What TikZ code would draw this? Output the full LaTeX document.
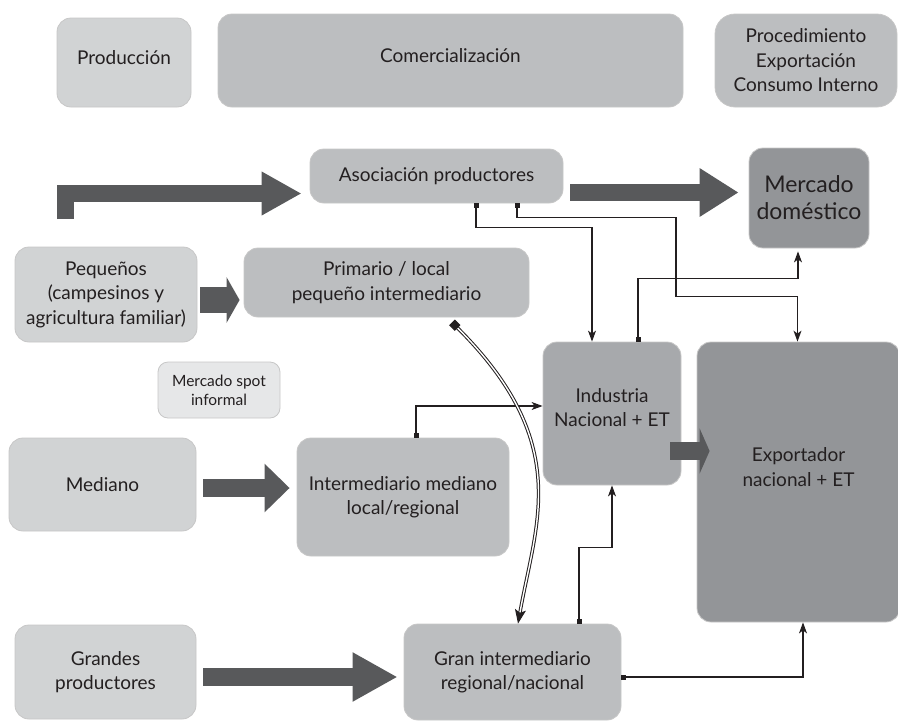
\documentclass[tikz,border=0pt]{standalone}
\usepackage{fontspec}
\setmainfont{Lato}
\usetikzlibrary{arrows.meta,positioning}
\definecolor{boxlight}{HTML}{D1D3D4}
\definecolor{boxmid}{HTML}{BCBEC0}
\definecolor{boxind}{HTML}{A7A9AC}
\definecolor{boxdark}{HTML}{939598}
\definecolor{boxspot}{HTML}{E6E7E8}
\definecolor{fatgray}{HTML}{58595B}
\definecolor{linegray}{HTML}{231F20}

\begin{document}
\begin{tikzpicture}[x=1pt,y=-1pt,
	box/.style={draw=black!22,line width=0.8pt,rounded corners=14pt,align=center,inner sep=0pt,text=linegray,font=\fontsize{19}{24.5}\selectfont},
	fat/.style={draw=fatgray,line cap=butt,line join=miter},
	link/.style={draw=linegray,line width=1.1pt,{Square[length=5pt,width=5pt]}-{Stealth[length=11pt,width=8pt,inset=3pt]}},
	curve/.style={draw=linegray,line width=1pt,double=white,double distance=1.4pt,{Square[length=8pt,width=8pt]}-{Stealth[length=14pt,width=11pt,inset=3pt]}}]
	\useasboundingbox (0,0) rectangle (898,721);

	% header row
	\node (prod)[box,fill=boxlight,minimum width=134pt,minimum height=89pt] at (124,62.5){Producción\\[-14pt]\mbox{}};
	\node (comerc)[box,fill=boxmid,minimum width=465pt,minimum height=93pt] at (450.5,60.5){Comercialización\\[-14pt]\mbox{}};
	\node (proced)[box,fill=boxmid,rounded corners=20pt,minimum width=182pt,minimum height=93pt] at (806,60.5){Procedimiento\\Exportación\\Consumo Interno};

	% producers
	\node (peq)[box,fill=boxlight,minimum width=182pt,minimum height=95pt] at (106,294.5){Pequeños\\(campesinos y\\agricultura familiar)};
	\node (med)[box,fill=boxlight,minimum width=187pt,minimum height=93pt] at (102.5,484.5){Mediano};
	\node (gra)[box,fill=boxlight,minimum width=181pt,minimum height=94pt] at (105.5,672){Grandes\\productores};
	\node (spot)[box,fill=boxspot,rounded corners=10pt,minimum width=122pt,minimum height=56pt,font=\fontsize{15.5}{19}\selectfont] at (219,390){Mercado spot\\informal};

	% intermediaries
	\node (asoc)[box,fill=boxmid,minimum width=253pt,minimum height=54pt] at (436.5,176){Asociación productores};
	\node (prim)[box,fill=boxmid,minimum width=285pt,minimum height=69pt] at (386.5,282.5){Primario / local\\pequeño intermediario};
	\node (imed)[box,fill=boxmid,minimum width=212pt,minimum height=118pt] at (403,497){Intermediario mediano\\local/regional};
	\node (gint)[box,fill=boxmid,minimum width=217pt,minimum height=96pt] at (512.5,672){Gran intermediario\\regional/nacional};

	% industry and markets
	\node (ind)[box,fill=boxind,minimum width=138pt,minimum height=143pt] at (612,413.5){Industria\\Nacional + ET\\[-12pt]\mbox{}};
	\node (merc)[box,fill=boxdark,minimum width=120pt,minimum height=100pt,font=\fontsize{23}{27}\selectfont] at (809,198){Mercado\\doméstico};
	\node (exp)[box,fill=boxdark,minimum width=203pt,minimum height=280pt] at (798.5,482){Exportador\\nacional + ET\\[6pt]\mbox{}};
	\coordinate (stem) at (65.5,219);

	% draw the big arrows
	\draw[fat,line width=17pt,-{Triangle[length=40pt,width=41pt]}] (stem) |- ([xshift=-8pt,yshift=-17.5pt]asoc.west);
	\draw[fat,line width=17pt,-{Triangle[length=39pt,width=46pt]}] ([xshift=7pt,yshift=-16.5pt]asoc.east) -- ([xshift=-10pt,yshift=5.5pt]merc.west);
	\draw[fat,line width=26pt,-{Triangle[length=13pt,width=45pt]}] ([xshift=3pt,yshift=-5.5pt]peq.east) -- ([xshift=-4pt,yshift=-17.5pt]prim.west);
	\draw[fat,line width=18pt,-{Triangle[length=25pt,width=47pt]}] ([xshift=7pt,yshift=-3.5pt]med.east) -- ([xshift=-7pt,yshift=9pt]imed.west);
	\draw[fat,line width=18pt,-{Triangle[length=45pt,width=46pt]}] ([xshift=7pt,yshift=-5pt]gra.east) -- ([xshift=-6pt,yshift=-5pt]gint.west);
	\draw[fat,line width=18pt,-{Triangle[length=10pt,width=45pt]}] ([xshift=-11pt,yshift=-37.5pt]ind.east) -- ([xshift=13pt,yshift=31pt]exp.west);

	% draw the connections
	\draw[link] ([xshift=39.5pt]asoc.south) -- ++(0,24) -| ([xshift=-20pt]ind.north);
	\draw[link] ([xshift=80.5pt]asoc.south) -- ++(0,14) -- ++(159,0) -- ++(0,79) -| ([xshift=-1pt]exp.north);
	\draw[link,shorten >=3pt] ([xshift=26pt]ind.north) -- ++(0,-63) -| ([xshift=-11pt]merc.south);
	\draw[link] ([xshift=13pt]imed.north) |- ([yshift=7.5pt]ind.west);
	\draw[link] ([xshift=66.5pt]gint.north) -- ++(0,-76) -| (ind.south);
	\draw[link] ([yshift=-5pt]gint.east) -| ([xshift=4.5pt]exp.south);
	\draw[curve] ([xshift=65.5pt,yshift=-5pt]prim.south) .. controls (573,443) and (536,522) .. ([xshift=5.5pt]gint.north);
\end{tikzpicture}
\end{document}
